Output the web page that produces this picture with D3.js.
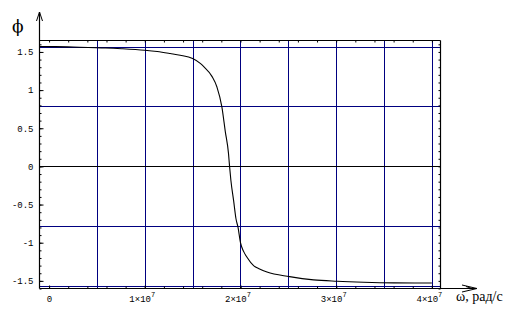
<!DOCTYPE html>
<html>
<head>
<meta charset="utf-8">
<script src="https://cdn.jsdelivr.net/npm/d3@7"></script>
<style>
  body { margin: 0; background: #fff; }
  svg { display: block; }
  .tick text { font-family: "Liberation Mono", "DejaVu Sans Mono", monospace; font-size: 9px; fill: #000; }
</style>
</head>
<body>
<svg id="chart" width="525" height="319"></svg>
<script>
// omega in units of 1e7 rad/s, phase in rad
var omega = [-0.1, 0.07, 0.25, 0.41, 0.59, 0.76, 1.0, 1.13, 1.266, 1.37, 1.5, 1.58, 1.614, 1.702, 1.754,
             1.806, 1.841, 1.875, 1.886, 1.9, 1.928, 1.953, 1.974, 2.0, 2.035, 2.068, 2.137, 2.2,
             2.277, 2.513, 2.764, 3.009, 3.287, 3.6, 4.0];
var phi = [1.571, 1.570, 1.565, 1.558, 1.552, 1.542, 1.522, 1.505, 1.479, 1.457, 1.413, 1.35, 1.31, 1.18, 1.041,
           0.778, 0.46, 0.167, 0.0, -0.184, -0.446, -0.686, -0.797, -1.0, -1.12, -1.19, -1.30, -1.345,
           -1.385, -1.444, -1.487, -1.505, -1.518, -1.526, -1.528];

var xMajor = [0, 1, 2, 3, 4];
var xLabels = ["0", "1×10", "2×10", "3×10", "4×10"];
var xMinor = [0, 0.2, 0.4, 0.6, 0.8, 1.0, 1.2, 1.4, 1.6, 1.8, 2.0, 2.2, 2.4, 2.6, 2.8, 3.0, 3.2, 3.4, 3.6, 3.8, 4.0];
var yMajor = [-1.5, -1, -0.5, 0, 0.5, 1, 1.5];
var yLabels = ["-1.5", "-1", "-0.5", "0", "0.5", "1", "1.5"];
var yMinor = [-1.6, -1.5, -1.4, -1.3, -1.2, -1.1, -1.0, -0.9, -0.8, -0.7, -0.6, -0.5, -0.4, -0.3, -0.2, -0.1, 0,
              0.1, 0.2, 0.3, 0.4, 0.5, 0.6, 0.7, 0.8, 0.9, 1.0, 1.1, 1.2, 1.3, 1.4, 1.5, 1.6];
var gridX = [0.5, 1, 1.5, 2, 2.5, 3, 3.5, 4];
var gridY = [-1.5708, -0.7854, 0.7854, 1.5708];

var svg = d3.select("#chart");
var box = {left: 39.5, right: 440.5, top: 40.5, bottom: 288.5};

var x = d3.scaleLinear().domain([-0.1, 4.09]).range([box.left, box.right]);
var y = d3.scaleLinear().domain([-1.6, 1.65]).range([box.bottom, box.top]);

var blue = "#000080";

// grid
svg.append("g").selectAll("line").data(gridX).enter().append("line")
    .attr("x1", function(d) { return Math.round(x(d)) + 0.5; })
    .attr("x2", function(d) { return Math.round(x(d)) + 0.5; })
    .attr("y1", box.top).attr("y2", box.bottom)
    .attr("stroke", blue).attr("stroke-width", 1);
svg.append("g").selectAll("line").data(gridY).enter().append("line")
    .attr("y1", function(d) { return Math.round(y(d)) + 0.5; })
    .attr("y2", function(d) { return Math.round(y(d)) + 0.5; })
    .attr("x1", box.left).attr("x2", box.right)
    .attr("stroke", blue).attr("stroke-width", 1);
svg.append("line")
    .attr("x1", box.left).attr("x2", box.right)
    .attr("y1", Math.round(y(0)) + 0.5).attr("y2", Math.round(y(0)) + 0.5)
    .attr("stroke", "#000").attr("stroke-width", 1);

// curve
var line = d3.line()
    .x(function(d, i) { return x(omega[i]); })
    .y(function(d) { return y(d); })
    .curve(d3.curveMonotoneX);
svg.append("path")
    .datum(phi)
    .attr("d", line)
    .attr("fill", "none")
    .attr("stroke", "#000")
    .attr("stroke-width", 1.1);

// axes
function plain(g) {
    g.select(".domain").remove();
    g.selectAll(".tick line").attr("stroke", "#000");
}

svg.append("g").attr("transform", "translate(0," + box.bottom + ")")
    .call(d3.axisBottom(x).tickValues(xMinor).tickSize(-2).tickFormat(""))
    .call(plain);
svg.append("g").attr("transform", "translate(0," + box.bottom + ")")
    .call(d3.axisBottom(x).tickValues(xMajor).tickSize(-3).tickPadding(7)
        .tickFormat(function(d, i) { return xLabels[i]; }))
    .call(plain)
    .selectAll(".tick text").each(function(d, i) {
        if (i > 0) {
            d3.select(this).attr("dx", "-3")
              .append("tspan").attr("dy", "-5").attr("font-size", "7px").text("7");
        }
    });

svg.append("g").attr("transform", "translate(" + box.left + ",0)")
    .call(d3.axisLeft(y).tickValues(yMinor).tickSize(-2).tickFormat(""))
    .call(plain);
svg.append("g").attr("transform", "translate(" + box.left + ",0)")
    .call(d3.axisLeft(y).tickValues(yMajor).tickSize(-4).tickPadding(6)
        .tickFormat(function(d, i) { return yLabels[i]; }))
    .call(plain);

// frame ticks
svg.append("g").attr("transform", "translate(0," + box.top + ")")
    .call(d3.axisTop(x).tickValues(xMinor).tickSize(-2).tickFormat(""))
    .call(plain);
svg.append("g").attr("transform", "translate(" + box.right + ",0)")
    .call(d3.axisRight(y).tickValues(yMinor).tickSize(-2).tickFormat(""))
    .call(plain);

// frame + axis lines
svg.append("line").attr("x1", box.left).attr("x2", box.right).attr("y1", box.top).attr("y2", box.top)
    .attr("stroke", "#000").attr("stroke-width", 1.2);
svg.append("line").attr("x1", box.right).attr("x2", box.right).attr("y1", box.top).attr("y2", box.bottom)
    .attr("stroke", "#000").attr("stroke-width", 1.2);
svg.append("line").attr("x1", box.left).attr("x2", 477).attr("y1", box.bottom).attr("y2", box.bottom)
    .attr("stroke", "#000").attr("stroke-width", 1.2);
svg.append("line").attr("x1", box.left).attr("x2", box.left).attr("y1", 12).attr("y2", box.bottom)
    .attr("stroke", "#000").attr("stroke-width", 1.2);

// arrow heads
svg.append("path")
    .attr("d", "M" + (box.left - 3) + ",21 L" + box.left + ",12 L" + (box.left + 3) + ",21")
    .attr("fill", "none").attr("stroke", "#000");
svg.append("path")
    .attr("d", "M462," + (box.bottom - 3.5) + " L477," + box.bottom + " L462," + (box.bottom + 3.5) +
               " M466," + (box.bottom - 2) + " L472," + box.bottom)
    .attr("fill", "none").attr("stroke", "#000");

// axis titles
svg.append("text").attr("x", 12).attr("y", 32)
    .attr("font-family", "'DejaVu Serif', serif").attr("font-size", "17px")
    .text("ϕ");
svg.append("text").attr("x", 456).attr("y", 301)
    .attr("font-family", "'Liberation Serif', serif").attr("font-size", "14px")
    .text("ω, рад/с");
</script>
</body>
</html>
